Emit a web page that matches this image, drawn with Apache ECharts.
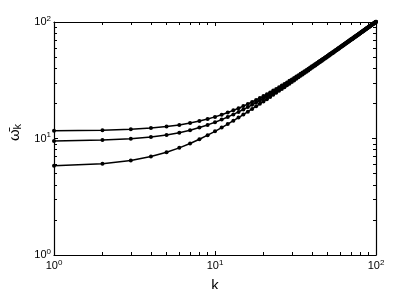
<!DOCTYPE html>
<html><head><meta charset="utf-8">
<script src="https://cdn.jsdelivr.net/npm/echarts@6/dist/echarts.min.js"></script>
<style>html,body{margin:0;padding:0;background:#fff}#c{width:415px;height:289px}</style>
</head><body><div id="c"></div>
<script>
// k = 1..100
const kValues = [1,2,3,4,5,6,7,8,9,10,11,12,13,14,15,16,17,18,19,20,21,22,23,24,25,26,27,28,29,30,31,32,33,34,35,36,37,38,39,40,41,42,43,44,45,46,47,48,49,50,51,52,53,54,55,56,57,58,59,60,61,62,63,64,65,66,67,68,69,70,71,72,73,74,75,76,77,78,79,80,81,82,83,84,85,86,87,88,89,90,91,92,93,94,95,96,97,98,99,100];
const omegaTop = [11.66,11.79,12.00,12.29,12.65,13.08,13.56,14.11,14.70,15.33,16.00,16.70,17.44,18.19,18.97,19.77,20.59,21.42,22.27,23.13,24.00,24.88,25.77,26.66,27.57,28.48,29.39,30.32,31.24,32.17,33.10,34.04,34.98,35.93,36.88,37.83,38.78,39.73,40.69,41.65,42.61,43.58,44.54,45.51,46.48,47.44,48.41,49.39,50.36,51.33,52.31,53.28,54.26,55.24,56.21,57.19,58.17,59.15,60.13,61.11,62.10,63.08,64.06,65.05,66.03,67.02,68.00,68.99,69.97,70.96,71.94,72.93,73.92,74.91,75.90,76.88,77.87,78.86,79.85,80.84,81.83,82.82,83.81,84.80,85.79,86.78,87.77,88.76,89.76,90.75,91.74,92.73,93.72,94.72,95.71,96.70,97.70,98.69,99.68,100.67];
const omegaMid = [9.54,9.70,9.95,10.30,10.72,11.22,11.79,12.41,13.08,13.78,14.53,15.30,16.09,16.91,17.75,18.60,19.47,20.35,21.24,22.14,23.04,23.96,24.88,25.81,26.74,27.68,28.62,29.56,30.51,31.46,32.42,33.38,34.34,35.30,36.26,37.23,38.20,39.17,40.14,41.11,42.08,43.06,44.03,45.01,45.99,46.97,47.95,48.93,49.91,50.89,51.87,52.86,53.84,54.83,55.81,56.80,57.78,58.77,59.76,60.75,61.73,62.72,63.71,64.70,65.69,66.68,67.67,68.66,69.65,70.64,71.63,72.62,73.62,74.61,75.60,76.59,77.58,78.58,79.57,80.56,81.56,82.55,83.54,84.54,85.53,86.52,87.52,88.51,89.51,90.50,91.49,92.49,93.48,94.48,95.47,96.47,97.46,98.46,99.45,100.45];
const omegaLow = [5.83,6.08,6.48,7.00,7.62,8.31,9.06,9.85,10.68,11.53,12.41,13.30,14.21,15.13,16.06,17.00,17.94,18.89,19.85,20.81,21.77,22.74,23.71,24.68,25.65,26.63,27.60,28.58,29.56,30.55,31.53,32.51,33.50,34.48,35.47,36.46,37.44,38.43,39.42,40.41,41.40,42.39,43.38,44.37,45.37,46.36,47.35,48.34,49.34,50.33,51.32,52.32,53.31,54.31,55.30,56.29,57.29,58.28,59.28,60.27,61.27,62.27,63.26,64.26,65.25,66.25,67.25,68.24,69.24,70.24,71.23,72.23,73.23,74.22,75.22,76.22,77.21,78.21,79.21,80.21,81.20,82.20,83.20,84.20,85.19,86.19,87.19,88.19,89.19,90.18,91.18,92.18,93.18,94.18,95.17,96.17,97.17,98.17,99.17,100.16];
const majorExponents = [0, 1, 2];
const minorMultipliers = [2,3,4,5,6,7,8,9];

const FONT = 'Liberation Sans';
// helper category axis: fine steps in log10 space, used only to place minor ticks
const STEPS_PER_DECADE = 500;
const nDecades = majorExponents.length - 1;
const helperCats = [];
for (let i = 0; i <= STEPS_PER_DECADE * nDecades; i++) helperCats.push(String(i));
const minorIdx = new Set();
for (let d = 0; d < nDecades; d++) for (const m of minorMultipliers)
  minorIdx.add(Math.round((d + Math.log10(m)) * STEPS_PER_DECADE));

const labelRich = {
  b: {fontFamily: FONT, fontSize: 11, color: '#000', lineHeight: 12},
  s: {fontFamily: FONT, fontSize: 8, color: '#000', padding: [0,0,7,0], lineHeight: 8}
};
const fmt = v => {
  const e = Math.round(Math.log10(v));
  return '{b|10}{s|' + majorExponents[e] + '}';
};

function logAxis(pos, labels, extra) {
  return Object.assign({
    type: 'log', logBase: 10, min: 1, max: 100, position: pos,
    axisLine: {show: true, lineStyle: {color: '#000', width: 1.2}},
    axisTick: {show: true, inside: true, length: 4, lineStyle: {color: '#000', width: 1}},
    minorTick: {show: false},
    axisLabel: labels ? {show: true, formatter: fmt, rich: labelRich, margin: pos === 'bottom' ? 5 : 3} : {show: false},
    splitLine: {show: false}
  }, extra || {});
}
function minorAxis(pos) {
  return {
    type: 'category', data: helperCats, boundaryGap: false, position: pos, offset: 0,
    axisLine: {show: false, onZero: false},
    axisTick: {show: true, inside: true, length: 3, interval: (idx) => minorIdx.has(idx),
      lineStyle: {color: '#000', width: 1}},
    axisLabel: {show: false}, splitLine: {show: false}
  };
}

const chart = echarts.init(document.getElementById('c'));
const mk = (data) => ({
  type: 'line', xAxisIndex: 0, yAxisIndex: 0, clip: false,
  data: kValues.map((k, i) => [k, data[i]]),
  symbol: 'circle', symbolSize: 4, showSymbol: true,
  itemStyle: {color: '#000'},
  lineStyle: {color: '#000', width: 1.5},
  animation: false
});
chart.setOption({
  animation: false,
  backgroundColor: '#fff',
  grid: {left: 54, right: 39, top: 22, bottom: 34, containLabel: false, outerBoundsMode: 'none'},
  xAxis: [
    logAxis('bottom', true, {name: 'k', nameLocation: 'middle', nameGap: 19,
      nameTextStyle: {fontFamily: FONT, fontSize: 15, color: '#000'}}),
    logAxis('top', false),
    minorAxis('bottom'),
    minorAxis('top')
  ],
  yAxis: [
    logAxis('left', true, {name: '{w|ω\u0304}{k|k}', nameLocation: 'middle', nameGap: 29, nameRotate: 90,
      nameTextStyle: {padding: [0, 0, 0, 12], rich: {
        w: {fontFamily: FONT, fontSize: 15, color: '#000'},
        k: {fontFamily: FONT, fontSize: 11, color: '#000', padding: [6,0,0,0]}
      }}}),
    logAxis('right', false),
    minorAxis('left'),
    minorAxis('right')
  ],
  series: [mk(omegaTop), mk(omegaMid), mk(omegaLow)]
});
</script></body></html>
